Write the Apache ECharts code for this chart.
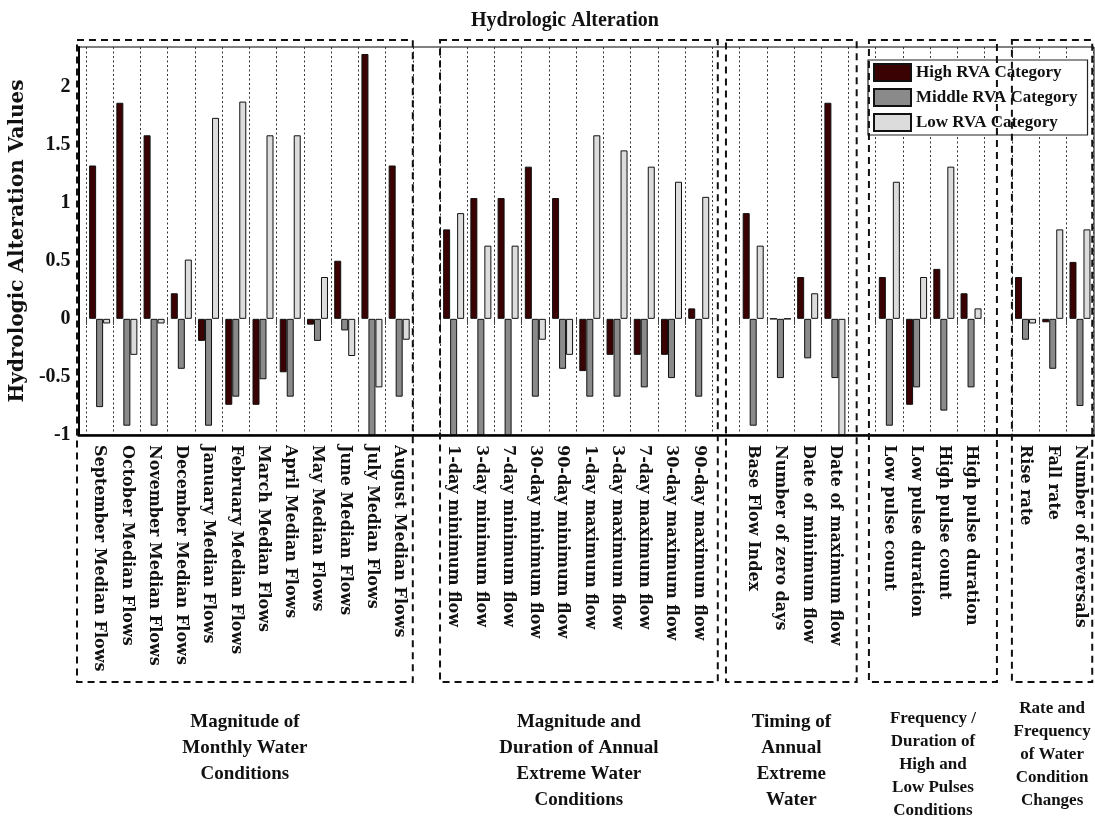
<!DOCTYPE html>
<html><head><meta charset="utf-8">
<script src="https://cdn.jsdelivr.net/npm/echarts@6/dist/echarts.min.js"></script>
<style>html,body{margin:0;padding:0;background:#fff}#c{width:1095px;height:822px}</style>
</head><body><div id="c"></div>
<script>
// ---------- DATA ----------
const categories = [
  'September Median Flows','October Median Flows','November Median Flows','December Median Flows',
  'January Median Flows','February Median Flows','March Median Flows','April Median Flows',
  'May Median Flows','June Median Flows','July Median Flows','August Median Flows',
  '1-day minimum flow','3-day minimum flow','7-day minimum flow','30-day minimum flow','90-day minimum flow',
  '1-day maximum flow','3-day maximum flow','7-day maximum flow','30-day maximum flow','90-day maximum flow',
  'Base Flow Index','Number of zero days','Date of minimum flow','Date of maximum flow',
  'Low pulse count','Low pulse duration','High pulse count','High pulse duration',
  'Rise rate','Fall rate','Number of reversals'
];
const groupSizes = [12, 10, 4, 4, 3];
const groupNames = [
  'Magnitude of\nMonthly Water\nConditions',
  'Magnitude and\nDuration of Annual\nExtreme Water\nConditions',
  'Timing of\nAnnual\nExtreme\nWater',
  'Frequency /\nDuration of\nHigh and\nLow Pulses\nConditions',
  'Rate and\nFrequency\nof Water\nCondition\nChanges'
];
const seriesNames = ['High RVA Category', 'Middle RVA Category', 'Low RVA Category'];
const highRVA = [1.32, 1.86, 1.58, 0.22, -0.19, -0.74, -0.74, -0.46, -0.05, 0.50, 2.28, 1.32,
  0.77, 1.04, 1.04, 1.31, 1.04, -0.45, -0.31, -0.31, -0.31, 0.09,
  0.91, 0, 0.36, 1.86,
  0.36, -0.74, 0.43, 0.22,
  0.36, -0.03, 0.49];
const middleRVA = [-0.76, -0.92, -0.92, -0.43, -0.92, -0.67, -0.52, -0.67, -0.19, -0.10, -1.0, -0.67,
  -1.0, -1.0, -1.0, -0.67, -0.43, -0.67, -0.67, -0.59, -0.51, -0.67,
  -0.92, -0.51, -0.34, -0.51,
  -0.92, -0.59, -0.79, -0.59,
  -0.18, -0.43, -0.75];
const lowRVA = [-0.04, -0.31, -0.04, 0.51, 1.73, 1.87, 1.58, 1.58, 0.36, -0.32, -0.59, -0.18,
  0.91, 0.63, 0.63, -0.18, -0.31, 1.58, 1.45, 1.31, 1.18, 1.05,
  0.63, 0, 0.22, -1.0,
  1.18, 0.36, 1.31, 0.09,
  -0.04, 0.77, 0.77];
const yTicks = [-1, -0.5, 0, 0.5, 1, 1.5, 2];

// ---------- LAYOUT (presentation only) ----------
const Y_MIN = -1, Y_MAX = 2.34;
const boxSpans = [[-0.83, 11.5], [12.5, 22.7], [23.0, 27.8], [28.25, 32.95], [33.5, 36.45]];
const boxTop = 40, boxBottom = 682;
const groupLabelStyle = [
  {top: 709, size: 19, lh: 26}, {top: 709, size: 19, lh: 26}, {top: 709, size: 19, lh: 26},
  {top: 707, size: 17, lh: 23}, {top: 697, size: 17, lh: 23}
];

// ---------- BUILD ----------
const fullCats = [], H = [], M = [], L = [];
let k = 0;
groupSizes.forEach((n, g) => {
  if (g > 0) { fullCats.push(' '.repeat(g)); H.push(null); M.push(null); L.push(null); }
  for (let i = 0; i < n; i++) { fullCats.push(categories[k]); H.push(highRVA[k]); M.push(middleRVA[k]); L.push(lowRVA[k]); k++; }
});

const serif = '"Liberation Serif", "Times New Roman", serif';
const wideSerif = '"DejaVu Serif", serif';
const colors = ['#3a0202', '#8a8a8a', '#dcdcdc'];

const chart = echarts.init(document.getElementById('c'), null, {renderer: 'canvas'});
const mkSeries = (name, data, color) => ({
  name, type: 'bar', data, xAxisIndex: 1, yAxisIndex: 1,
  barWidth: 7, barGap: '0%',
  itemStyle: {color, borderColor: '#111', borderWidth: 1},
  emphasis: {disabled: true}, animation: false
});

const option = {
  animation: false,
  backgroundColor: '#fff',
  grid: [
    {left: 78, right: 1, top: 47, bottom: 387, show: true, borderColor: '#000', borderWidth: 1, backgroundColor: 'transparent'},
    {left: 86, right: 1.4, top: 47, bottom: 387}
  ],
  xAxis: [
    {type: 'value', gridIndex: 0, min: 0, max: 1, axisLabel: {show: false}, axisTick: {show: false}, splitLine: {show: false},
     axisLine: {show: true, onZero: false, lineStyle: {color: '#000', width: 2.5}}},
    {type: 'category', gridIndex: 1, data: fullCats, boundaryGap: true,
     axisLine: {show: false},
     axisTick: {show: true, length: 6, lineStyle: {color: '#444', width: 1}},
     splitLine: {show: true, lineStyle: {color: '#333', width: 1, type: [2, 2.5]}},
     axisLabel: {interval: 0, rotate: -90, margin: 10, color: '#111',
       fontFamily: wideSerif, fontWeight: 'bold', fontSize: 16}}
  ],
  yAxis: [
    {type: 'value', gridIndex: 0, min: Y_MIN, max: Y_MAX, interval: 0.5,
     name: 'Hydrologic Alteration Values', nameLocation: 'middle', nameGap: 48,
     nameTextStyle: {fontFamily: wideSerif, fontWeight: 'bold', fontSize: 20, color: '#111'},
     axisLine: {show: true, lineStyle: {color: '#000', width: 2}},
     axisTick: {show: false}, splitLine: {show: false},
     axisLabel: {margin: 8, color: '#111', fontFamily: serif, fontWeight: 'bold', fontSize: 20,
       formatter: v => yTicks.some(t => Math.abs(t - v) < 1e-6) ? String(v) : ''}},
    {type: 'value', gridIndex: 1, min: Y_MIN, max: Y_MAX, show: false, splitLine: {show: false}}
  ],
  legend: {
    orient: 'vertical', left: 868, top: 60,
    data: seriesNames, icon: 'rect', itemWidth: 37, itemHeight: 17, itemGap: 6,
    padding: [3, 10, 3, 5], backgroundColor: '#fff', borderColor: '#222', borderWidth: 1.2,
    textStyle: {fontFamily: serif, fontWeight: 'bold', fontSize: 17, color: '#111', lineHeight: 17},
    selectedMode: false
  },
  series: [mkSeries(seriesNames[0], H, colors[0]), mkSeries(seriesNames[1], M, colors[1]), mkSeries(seriesNames[2], L, colors[2])]
};
chart.setOption(option);

// decorations computed from the axis scale
const p0 = chart.convertToPixel({xAxisIndex: 1}, 0);
const p1 = chart.convertToPixel({xAxisIndex: 1}, 1);
const step = p1 - p0;
const px = idx => p0 + idx * step;
const graphics = [{type: 'text', silent: true, z: 10,
  style: {text: 'Hydrologic Alteration', x: 565, y: 21, align: 'center', verticalAlign: 'middle',
    font: 'bold 20px ' + serif, fill: '#111'}}];
boxSpans.forEach((s, g) => {
  const x0 = px(s[0]), x1 = px(s[1]);
  graphics.push({type: 'rect', silent: true, z: 5,
    shape: {x: x0, y: boxTop, width: x1 - x0, height: boxBottom - boxTop},
    style: {fill: 'none', stroke: '#111', lineWidth: 2, lineDash: [7, 5]}});
  const st = groupLabelStyle[g];
  graphics.push({type: 'text', silent: true, z: 10,
    style: {text: groupNames[g], x: (x0 + x1) / 2, y: st.top, align: 'center', verticalAlign: 'top',
      font: 'bold ' + st.size + 'px ' + serif, lineHeight: st.lh, fill: '#111'}});
});
chart.setOption({graphic: graphics});
</script>
</body></html>
